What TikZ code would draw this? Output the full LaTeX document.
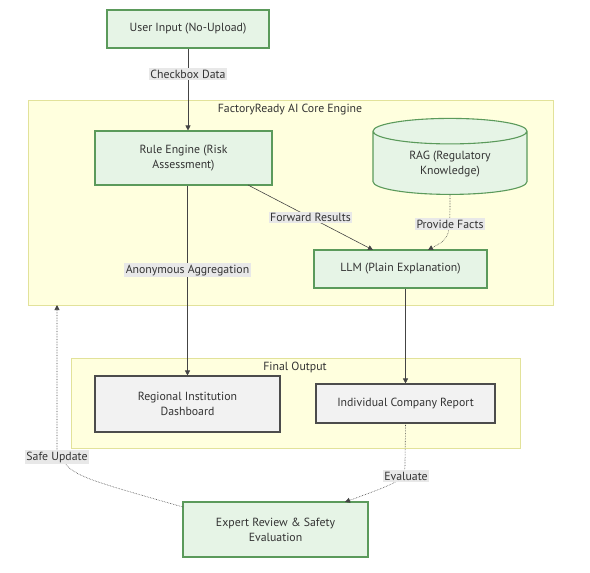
\documentclass[tikz,border=0pt]{standalone}
\usepackage{fontspec}
\setmainfont{PT Sans}
\usetikzlibrary{positioning,arrows.meta,calc,shapes.geometric}

\definecolor{boxgreen}{HTML}{E6F4E6}
\definecolor{edgegreen}{HTML}{5B9A5B}
\definecolor{clusterfill}{HTML}{FFFFDE}
\definecolor{clusteredge}{HTML}{E2E29A}
\definecolor{outgray}{HTML}{F2F2F2}
\definecolor{lblgray}{HTML}{E8E8E8}
\definecolor{linegray}{HTML}{444444}

\begin{document}
\begin{tikzpicture}[
    x=1pt, y=-1pt,
    font=\fontsize{11.8}{15}\selectfont,
    stage/.style={draw=edgegreen, line width=1.1pt, fill=boxgreen, align=center,
        text=black!80, inner sep=2pt},
    outbox/.style={draw=black!70, line width=1.1pt, fill=outgray, align=center,
        text=black!80, inner sep=2pt},
    cluster/.style={draw=clusteredge, fill=clusterfill, line width=0.6pt},
    lbl/.style={fill=lblgray, inner sep=1.5pt, text=black!80},
    arrow/.style={-{Triangle[length=5pt,width=5pt]}, draw=linegray, line width=0.6pt},
    dotarrow/.style={arrow, densely dotted}
]
\useasboundingbox (0,0) rectangle (590,573);

% subgraphs
\node[cluster, minimum width=525pt, minimum height=205pt] (core) at (290.5,202.5) {};
\node[text=black!80] (coretitle) at (290,110) {FactoryReady AI Core Engine};
\node[cluster, minimum width=449pt, minimum height=90pt] (final) at (295.5,403) {};
\node[text=black!80] (finaltitle) at (295,367) {Final Output};

% nodes
\node[stage, minimum width=162pt, minimum height=38pt] (user) at (188,29) {User Input (No-Upload)};
\node[stage, minimum width=177pt, minimum height=54pt] (rule) at (183.5,158) {Rule Engine (Risk\\Assessment)};
\node[stage, cylinder, shape border rotate=90, aspect=0.3,
      minimum width=154pt, minimum height=76pt] (rag) at (450,164.5) {RAG (Regulatory\\Knowledge)};
\node[stage, minimum width=173pt, minimum height=38pt] (llm) at (400.5,269) {LLM (Plain Explanation)};
\node[outbox, minimum width=185pt, minimum height=56pt] (dash) at (187.5,404) {Regional Institution\\Dashboard};
\node[outbox, minimum width=179pt, minimum height=39pt] (report) at (405.5,403.5) {Individual Company Report};
\node[stage, minimum width=185pt, minimum height=55pt] (expert) at (275.5,529.5) {Expert Review \& Safety\\Evaluation};

\coordinate (ruleout) at (248,185);
\coordinate (llmin) at (373,250);
\coordinate (factin) at (428,250);
\coordinate (evalin) at (345,502);
\coordinate (safeout) at (183,507);
\coordinate (safein) at (57,305);

% edges
\draw[arrow] (user.south) -- (user.south |- rule.north)
    node[pos=0.31, lbl] {Checkbox Data};
\draw[arrow] (ruleout) -- (llmin)
    node[midway, lbl] {Forward Results};
\draw[dotarrow] (rag.south) .. controls (450,238) .. (factin);
\node[lbl] (factlbl) at (450,224) {Provide Facts};
\draw[arrow] (rule.south -| dash.north) -- (dash.north)
    node[pos=0.445, lbl] {Anonymous Aggregation};
\draw[arrow] (llm.south -| report.north) -- (report.north);
\draw[dotarrow] (report.south) -- (405,462) .. controls (405,480) .. (evalin);
\node[lbl] (evallbl) at (406,476) {Evaluate};
\draw[dotarrow] (safeout) .. controls (70,475) .. (57,450) -- (safein);
\node[lbl] (safelbl) at (57,457) {Safe Update};
\end{tikzpicture}
\end{document}
